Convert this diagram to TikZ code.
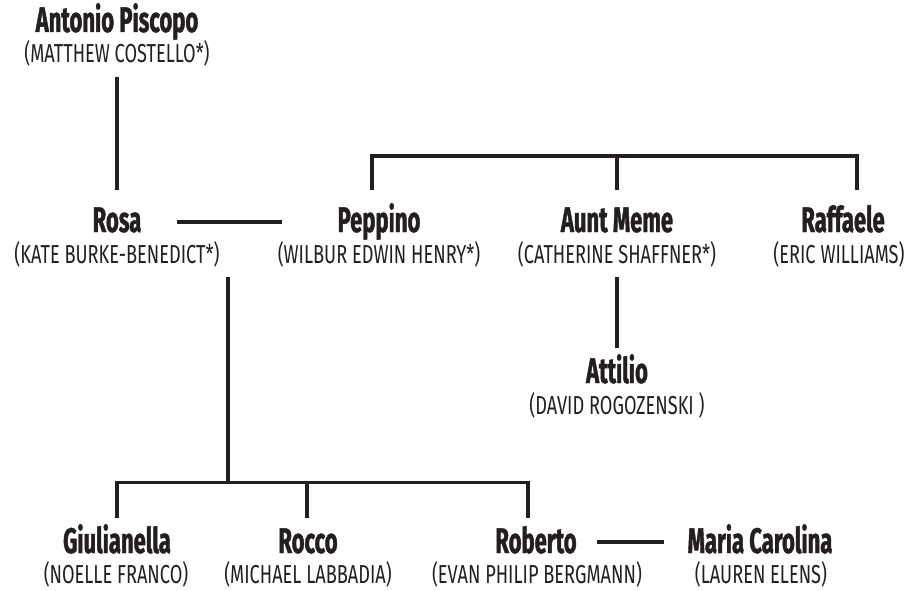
\documentclass[tikz,border=0pt]{standalone}
\usepackage{fontspec}
\newfontfamily\namefont{Fira Sans}[FakeStretch=0.62,FakeBold=1.2]
\newfontfamily\subfont{Fira Sans}[FakeStretch=0.70]
\definecolor{ink}{RGB}{35,31,32}
\tikzset{
  pname/.style={anchor=base, inner sep=0pt, text height=23pt, text depth=0pt,
    outer xsep=0pt, outer ysep=12.5pt, text=ink,
    font=\namefont\bfseries\fontsize{35.5}{38}\selectfont},
  toprow/.style={pname, outer ysep=19pt},
  psub/.style={anchor=base, inner sep=0pt, text height=15pt, text depth=4pt,
    outer xsep=0pt, outer ysep=10pt, text=ink,
    font=\subfont\fontsize{26}{28}\selectfont},
  link/.style={draw=ink, line width=3.1pt}
}
\begin{document}
\begin{tikzpicture}[x=1pt,y=1pt]
\useasboundingbox[fill=white] (0,0) rectangle (917,590);
% people
\node[pname] (antonio) at (117,558) {Antonio Piscopo};
\node[psub] (antonio-s) at (117,527) {(MATTHEW COSTELLO*)};
\node[toprow] (rosa) at (117,358) {Rosa};
\node[psub] (rosa-s) at (117,327) {(KATE BURKE-BENEDICT*)};
\node[toprow] (peppino) at (379,358) {Peppino};
\node[psub] (peppino-s) at (379,327) {(WILBUR EDWIN HENRY*)};
\node[toprow] (meme) at (617,358) {Aunt Meme};
\node[psub] (meme-s) at (617,327) {(CATHERINE SHAFFNER*)};
\node[toprow] (raffaele) at (843,358) {Raffaele};
\node[psub] (raffaele-s) at (839,327) {(ERIC WILLIAMS)};
\node[pname] (attilio) at (617,207) {Attilio};
\node[psub] (attilio-s) at (617,176) {(DAVID ROGOZENSKI )};
\node[pname] (giulianella) at (117,37) {Giulianella};
\node[psub] (giulianella-s) at (116,7) {(NOELLE FRANCO)};
\node[pname] (rocco) at (308,37) {Rocco};
\node[psub] (rocco-s) at (308,7) {(MICHAEL LABBADIA)};
\node[pname] (roberto) at (536,37) {Roberto};
\node[psub] (roberto-s) at (537,7) {(EVAN PHILIP BERGMANN)};
\node[pname] (maria) at (760,37) {Maria Carolina};
\node[psub] (maria-s) at (761,7) {(LAUREN ELENS)};
% connectors
\draw[link] (antonio-s.south) -- (rosa.north);
\draw[link] ([shift={(60pt,10pt)}]rosa.base) -- ([shift={(-97pt,10pt)}]peppino.base);
\draw[link] ([xshift=-7pt]peppino.north) -- ++(0,34) -| ([xshift=14pt]raffaele.north);
\draw[link] (meme.north) -- ++(0,34);
\draw[link] (meme-s.south) -- (attilio.north);
\draw[link] ([xshift=111pt]rosa-s.south) -- ++(0,-205);
\draw[link] (giulianella.north) -- ++(0,35) -| ([xshift=-8pt]roberto.north);
\draw[link] ([xshift=-1pt]rocco.north) -- ++(0,35);
\draw[link] ([shift={(61pt,11pt)}]roberto.base) -- ([shift={(-96pt,11pt)}]maria.base);
\end{tikzpicture}
\end{document}
